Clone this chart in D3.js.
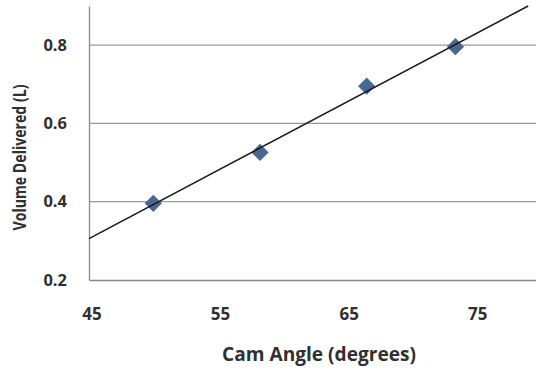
<!DOCTYPE html>
<html>
<head>
<meta charset="utf-8">
<script src="https://cdn.jsdelivr.net/npm/d3@7"></script>
<style>
  body { margin: 0; background: #fff; }
  svg { display: block; overflow: hidden; }
  .tick text { font-family: "Open Sans", sans-serif; font-weight: bold; }
</style>
</head>
<body>
<svg id="chart" width="536" height="370"></svg>
<script>
// data
const camAngle = [50, 58.3, 66.6, 73.5];
const volume = [0.396, 0.526, 0.695, 0.796];
const xTicks = [45, 55, 65, 75];
const yTicks = [0.2, 0.4, 0.6, 0.8];

const svg = d3.select("#chart");
const width = +svg.attr("width");
const height = +svg.attr("height");

// plot area (right edge runs off the picture at 80 degrees)
const margin = {top: 6, left: 89, bottom: 90};
const x = d3.scaleLinear().domain([45, 80]).range([margin.left, 539]);
const y = d3.scaleLinear().domain([0.2, 0.9]).range([height - margin.bottom, margin.top]);

const textColor = "#303030";

// gridlines
svg.append("g")
    .selectAll("line")
    .data(yTicks.filter(d => d > 0.2))
    .join("line")
    .attr("x1", x(45))
    .attr("x2", width)
    .attr("y1", d => y(d))
    .attr("y2", d => y(d))
    .attr("stroke", "#9c9c86")
    .attr("stroke-width", 1.3);

// axes
svg.append("g")
    .attr("transform", `translate(0,${y(0.2)})`)
    .call(d3.axisBottom(x).tickValues(xTicks).tickSize(0).tickPadding(28))
    .call(g => g.select(".domain").attr("stroke", "#8a8a8a").attr("stroke-width", 1.3))
    .call(g => g.selectAll(".tick text")
        .attr("fill", textColor)
        .attr("font-size", "17px")
        .attr("dx", "2.5px"));

svg.append("g")
    .attr("transform", `translate(${x(45)},0)`)
    .call(d3.axisLeft(y).tickValues(yTicks).tickSize(0).tickPadding(22).tickFormat(d3.format(".1f")))
    .call(g => g.select(".domain").attr("stroke", "#8a8a8a").attr("stroke-width", 1.3))
    .call(g => g.selectAll(".tick text")
        .attr("fill", textColor)
        .attr("font-size", "16.5px"));

// labels (condensed to match the narrow original face)
svg.append("text")
    .attr("text-anchor", "middle")
    .attr("font-family", "Open Sans, sans-serif")
    .attr("font-weight", "bold")
    .attr("font-size", "19px")
    .attr("fill", textColor)
    .attr("x", 319)
    .attr("y", 361)
    .attr("textLength", 194)
    .attr("lengthAdjust", "spacingAndGlyphs")
    .text("Cam Angle (degrees)");

svg.append("text")
    .attr("text-anchor", "middle")
    .attr("font-family", "Open Sans, sans-serif")
    .attr("font-weight", "bold")
    .attr("font-size", "17px")
    .attr("fill", textColor)
    .attr("transform", `translate(26,${(85 + 230) / 2}) rotate(-90)`)
    .attr("textLength", 146)
    .attr("lengthAdjust", "spacingAndGlyphs")
    .text("Volume Delivered (L)");

// linear trendline (least squares fit of the points), clipped to the plot
const mx = d3.mean(camAngle), my = d3.mean(volume);
const slope = d3.sum(camAngle, (d, i) => (d - mx) * (volume[i] - my)) /
    d3.sum(camAngle, d => (d - mx) * (d - mx));
const intercept = my - slope * mx;
const xEnd = Math.min(80, (0.9 - intercept) / slope);

// diamond markers
svg.append("g")
    .selectAll("path")
    .data(camAngle)
    .join("path")
    .attr("d", d3.symbol(d3.symbolDiamond2, 190))
    .attr("transform", (d, i) => `translate(${x(d)},${y(volume[i])})`)
    .attr("fill", "#4a6793");

svg.append("line")
    .attr("x1", x(45))
    .attr("y1", y(intercept + slope * 45))
    .attr("x2", x(xEnd))
    .attr("y2", y(intercept + slope * xEnd))
    .attr("stroke", "#1a1a1a")
    .attr("stroke-width", 1.6);
</script>
</body>
</html>
